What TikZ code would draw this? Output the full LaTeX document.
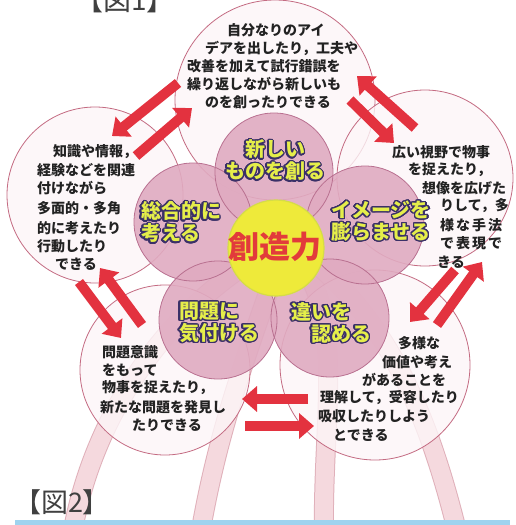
\documentclass[tikz,border=0pt]{standalone}
\usepackage{fontspec}
\usepackage{contour}
\usetikzlibrary{arrows.meta}
\newfontfamily\jp{Noto Sans CJK JP}
\definecolor{ocline}{HTML}{C46B82}
\definecolor{ofill}{HTML}{FDF6F8}
\definecolor{pfill}{HTML}{E0ABC1}
\definecolor{pline}{HTML}{B97090}
\definecolor{bfill}{HTML}{F5D9DE}
\definecolor{bedge}{HTML}{E0B0BA}
\definecolor{yel}{HTML}{EEEA3A}
\definecolor{yeledge}{HTML}{D5DC48}
\definecolor{labyel}{HTML}{E5EE4A}
\definecolor{labline}{HTML}{3A3068}
\definecolor{redtxt}{HTML}{E23B3B}
\definecolor{arrred}{HTML}{E3323F}
\definecolor{otxt}{HTML}{222222}
\definecolor{bluebar}{HTML}{9FD3EF}
\contourlength{1.3pt}
\contournumber{24}
\newcommand{\plab}[1]{\contour{labline}{#1}}
\begin{document}
\begin{tikzpicture}[x=1pt,y=-1pt,
  outer/.style={circle, draw=ocline, fill=ofill, fill opacity=0.8, line width=0.8pt, inner sep=0pt},
  petal/.style={circle, fill=pfill, fill opacity=0.9, inner sep=0pt, minimum size=118pt},
  petaledge/.style={circle, draw=pline, line width=0.8pt, inner sep=0pt, minimum size=118pt},
  band/.style={draw=bedge, line width=1pt, double=bfill, double distance=18pt},
  rarrow/.style={draw=arrred, line width=10pt, -{Triangle[length=15pt,width=25pt]}},
  otext/.style={font=\jp\bfseries\fontsize{14}{16}\selectfont, text=otxt, inner sep=0pt, anchor=west},
  ptext/.style={font=\jp\bfseries\fontsize{20}{22}\selectfont, text=labyel, inner sep=0pt, align=left},
]
\useasboundingbox (0,0) rectangle (515,525);
\clip (0,0) rectangle (515,525);
\fill[white] (0,0) rectangle (515,525);

% stems
\coordinate (s1a) at (72,535);  \coordinate (s1b) at (250,262);
\coordinate (s2a) at (200,535); \coordinate (s2b) at (276,270);
\coordinate (s3a) at (324,535); \coordinate (s3b) at (300,262);
\coordinate (s4a) at (458,535); \coordinate (s4b) at (305,255);
\draw[band] (s1a) .. controls (92,420) and (160,320) .. (s1b);
\draw[band] (s2a) .. controls (218,430) and (245,360) .. (s2b);
\draw[band] (s3a) .. controls (322,420) and (345,320) .. (s3b);
\draw[band] (s4a) .. controls (430,420) and (390,320) .. (s4b);

% outer circles
\node[outer, minimum size=200pt] (ctop) at (275,100) {};
\node[outer, minimum size=176pt] (cleft) at (95,195) {};
\node[outer, minimum size=176pt] (cright) at (425,178) {};
\node[outer, minimum size=170pt] (cbl) at (165,370) {};
\node[outer, minimum size=190pt] (cbr) at (375,365) {};

% arrows
\coordinate (a1s) at (178,83);  \coordinate (a1e) at (112,136);
\coordinate (a2s) at (136,156); \coordinate (a2e) at (192,108);
\coordinate (b1s) at (415,128); \coordinate (b1e) at (357,76);
\coordinate (b2s) at (350,100); \coordinate (b2e) at (394,143);
\coordinate (c1s) at (79,282);  \coordinate (c1e) at (121,338);
\coordinate (c2s) at (142,325); \coordinate (c2e) at (100,268);
\coordinate (d1s) at (455,270); \coordinate (d1e) at (410,322);
\coordinate (d2s) at (437,325); \coordinate (d2e) at (482,262);
\coordinate (e1s) at (308,399); \coordinate (e1e) at (242,399);
\coordinate (e2s) at (245,426); \coordinate (e2e) at (314,426);
\draw[rarrow] (a1s) -- (a1e);
\draw[rarrow] (a2s) -- (a2e);
\draw[rarrow] (b1s) -- (b1e);
\draw[rarrow] (b2s) -- (b2e);
\draw[rarrow] (c1s) -- (c1e);
\draw[rarrow] (c2s) -- (c2e);
\draw[rarrow] (d1s) -- (d1e);
\draw[rarrow] (d2s) -- (d2e);
\draw[rarrow] (e1s) -- (e1e);
\draw[rarrow] (e2s) -- (e2e);

% petals
\node[petal] (ptop) at (274,172) {};
\node[petal] (pleft) at (193,222) {};
\node[petal] (pright) at (365,225) {};
\node[petal] (pbl) at (218,320) {};
\node[petal] (pbr) at (330,318) {};
\node[petaledge] (etop) at (274,172) {};
\node[petaledge] (eleft) at (193,222) {};
\node[petaledge] (eright) at (365,225) {};
\node[petaledge] (ebl) at (218,320) {};
\node[petaledge] (ebr) at (330,318) {};

% center
\node[circle, fill=yel, draw=yeledge, line width=1.2pt, minimum size=96pt, inner sep=0pt] (core) at (276,248) {};
\node[font=\jp\bfseries\fontsize{31}{31}\selectfont, text=redtxt, inner sep=0pt] (coretxt) at (275,247) {創造力};

% petal labels
\node[ptext, align=center] (ltop) at (275,161) {\plab{新しい}\\\plab{ものを創る}};
\node[ptext] (lleft) at (181,223) {\plab{総合的に}\\\plab{考える}};
\node[ptext] (lright) at (381,222) {\plab{イメージを}\\\plab{膨らませる}};
\node[ptext] (lbl) at (219,323) {\plab{問題に}\\\plab{気付ける}};
\node[ptext, anchor=north west] (lbr) at (291,302) {\plab{違いを}\\\hspace*{20pt}\plab{認める}};

% top circle text
\node[otext] (t1) at (227,30) {自分なりのアイ};
\node[otext] (t2) at (205,48) {デアを出したり，工夫や};
\node[otext] (t3) at (187,66) {改善を加えて試行錯誤を};
\node[otext] (t4) at (187,84) {繰り返しながら新しいも};
\node[otext] (t5) at (205,102) {のを創ったりできる};

% left circle text
\node[otext] (l1) at (53,152) {知識や情報，};
\node[otext] (l2) at (37,170) {経験などを関連};
\node[otext] (l3) at (37,188) {付けながら};
\node[otext] (l4) at (37,208) {多面的・多角};
\node[otext] (l5) at (37,228) {的に考えたり};
\node[otext] (l6) at (37,246) {行動したり};
\node[otext] (l7) at (55,264) {できる};

% right circle text
\node[otext] (r1) at (392,152) {広い視野で物事};
\node[otext] (r2) at (408,170) {を捉えたり，};
\node[otext] (r3) at (422,188) {想像を広げた};
\node[otext] (r4) at (440,206) {\makebox[62pt][s]{りして，\hfil 多}};
\node[otext] (r5) at (440,225) {\makebox[62pt][s]{様\hfil な\hfil 手\hfil 法}};
\node[otext] (r6) at (440,243) {\makebox[62pt][s]{で\hfil 表\hfil 現\hfil で}};
\node[otext] (r7) at (437,262) {きる};

% bottom-left circle text
\node[otext] (bl1) at (102,352) {問題意識};
\node[otext] (bl2) at (102,370) {をもって};
\node[otext] (bl3) at (102,388) {物事を捉えたり，};
\node[otext] (bl4) at (100,407) {新たな問題を発見し};
\node[otext] (bl5) at (132,425) {たりできる};

% bottom-right circle text
\node[otext] (br1) at (398,343) {多様な};
\node[otext] (br2) at (382,362) {価値や考え};
\node[otext] (br3) at (362,380) {があることを};
\node[otext] (br4) at (320,398) {理解して，受容したり};
\node[otext] (br5) at (318,416) {吸収したりしよう};
\node[otext] (br6) at (333,435) {とできる};

% captions
\node[font=\jp\fontsize{28}{28}\selectfont, text=black!75, inner sep=0pt] (fig1) at (125,0) {【図1】};
\node[font=\jp\fontsize{27}{27}\selectfont, text=black!75, inner sep=0pt] (fig2) at (62,502) {【図2】};
\fill[bluebar] (15,520) rectangle (510,526);
\end{tikzpicture}
\end{document}
